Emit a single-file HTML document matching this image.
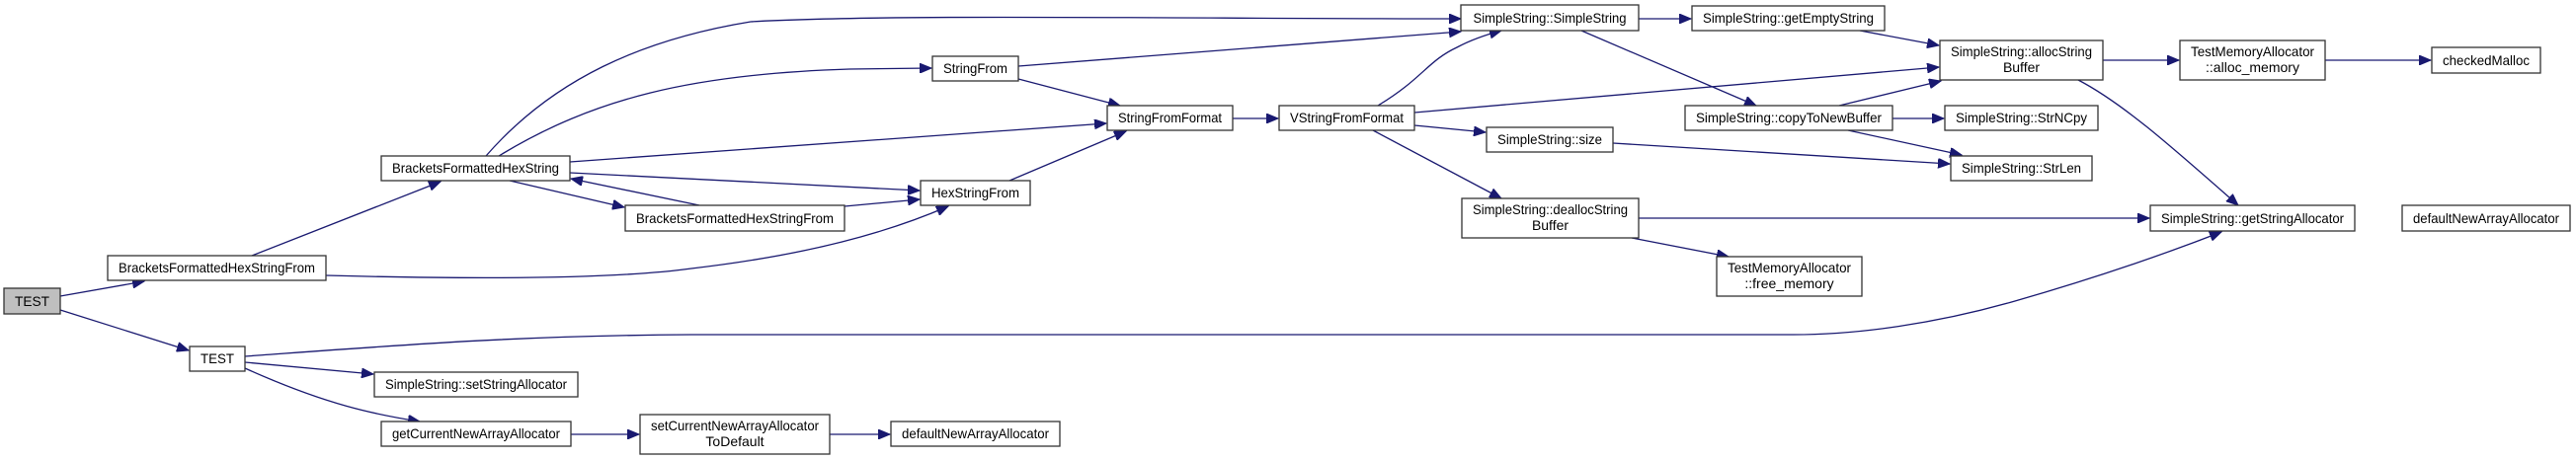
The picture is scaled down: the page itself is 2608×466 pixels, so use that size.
<!DOCTYPE html>
<html><head><meta charset="utf-8"><style>
html,body{margin:0;padding:0;background:#fff;}
svg{display:block;}
text{font-family:"Liberation Sans",Arial,sans-serif;font-size:14px;fill:#000;}
.n{fill:#fff;stroke:#333;stroke-width:1.3;}
.e{fill:none;stroke:#191970;stroke-width:1.3;}
</style></head><body>
<svg width="2608" height="466" viewBox="0 0 2608 466" xmlns="http://www.w3.org/2000/svg">
<defs>
<marker id="a" markerUnits="userSpaceOnUse" markerWidth="14" markerHeight="10" refX="12" refY="5" orient="auto">
<path d="M0,0 L12,5 L0,10 Z" fill="#191970" stroke="#191970"/>
</marker>
</defs>
<g marker-end="url(#a)" class="e">
<path d="M61,300 L146,285"/>
<path d="M61,314 L191,355"/>
<path d="M255,259 L446,184"/>
<path d="M330,279 C480,283 620,283 700,272 C820,258 900,235 960,209"/>
<path d="M492,158 C560,80 650,40 760,22 C900,14 1200,19 1479,19"/>
<path d="M505,158 C600,100 700,75 860,70 L943,69"/>
<path d="M577,164 L1120,125"/>
<path d="M577,175 L931,193"/>
<path d="M516,183 L632,210"/>
<path d="M708,208 L578,181"/>
<path d="M855,209 L931,202"/>
<path d="M1031,67 L1479,32"/>
<path d="M1031,80 L1134,107"/>
<path d="M1022,183 L1140,133"/>
<path d="M1248,120 L1294,120"/>
<path d="M1395,107 C1440,80 1445,62 1475,48 C1490,40 1505,35 1520,31"/>
<path d="M1432,114 L1963,68"/>
<path d="M1432,127 L1504,134"/>
<path d="M1390,132 L1520,201"/>
<path d="M1659,19 L1712,19"/>
<path d="M1601,31 L1778,107"/>
<path d="M1883,31 L1963,46"/>
<path d="M1862,107 L1965,82"/>
<path d="M1916,120 L1968,120"/>
<path d="M1871,132 L1986,157"/>
<path d="M1633,145 L1974,166"/>
<path d="M1659,221 L2176,221"/>
<path d="M1652,241 L1750,260"/>
<path d="M2129,61 L2206,61"/>
<path d="M2354,61 L2461,61"/>
<path d="M2104,81 C2150,105 2200,150 2266,208"/>
<path d="M248,361 C400,350 520,340 700,339 L1816,339 C1880,339 1960,328 2040,305 C2120,282 2190,258 2249,235"/>
<path d="M248,367 L378,379"/>
<path d="M248,373 C330,410 380,420 425,427"/>
<path d="M578,440 L647,440"/>
<path d="M840,440 L901,440"/>
</g>
<g>
<rect x="4" y="292" width="57" height="26" style="fill:#bfbfbf;stroke:#333;stroke-width:1.3"/>
<text x="32.5" y="310" text-anchor="middle" textLength="35" lengthAdjust="spacingAndGlyphs">TEST</text>

<rect class="n" x="109" y="259" width="221" height="25"/>
<text x="219.5" y="276" text-anchor="middle" textLength="199" lengthAdjust="spacingAndGlyphs">BracketsFormattedHexStringFrom</text>

<rect class="n" x="386" y="158" width="191" height="25"/>
<text x="481.5" y="175" text-anchor="middle" textLength="169" lengthAdjust="spacingAndGlyphs">BracketsFormattedHexString</text>

<rect class="n" x="192" y="351" width="56" height="25"/>
<text x="220" y="368" text-anchor="middle" textLength="34" lengthAdjust="spacingAndGlyphs">TEST</text>

<rect class="n" x="379" y="377" width="206" height="25"/>
<text x="482" y="394" text-anchor="middle" textLength="184" lengthAdjust="spacingAndGlyphs">SimpleString::setStringAllocator</text>

<rect class="n" x="386" y="427" width="192" height="25"/>
<text x="482" y="444" text-anchor="middle" textLength="170" lengthAdjust="spacingAndGlyphs">getCurrentNewArrayAllocator</text>

<rect class="n" x="944" y="57" width="87" height="25"/>
<text x="987.5" y="74" text-anchor="middle" textLength="65" lengthAdjust="spacingAndGlyphs">StringFrom</text>

<rect class="n" x="1121" y="107" width="127" height="25"/>
<text x="1184.5" y="124" text-anchor="middle" textLength="105" lengthAdjust="spacingAndGlyphs">StringFromFormat</text>

<rect class="n" x="932" y="183" width="111" height="25"/>
<text x="987.5" y="200" text-anchor="middle" textLength="89" lengthAdjust="spacingAndGlyphs">HexStringFrom</text>

<rect class="n" x="633" y="208" width="222" height="26"/>
<text x="744" y="226" text-anchor="middle" textLength="200" lengthAdjust="spacingAndGlyphs">BracketsFormattedHexStringFrom</text>

<rect class="n" x="648" y="420" width="192" height="40"/>
<text x="744" y="436" text-anchor="middle" textLength="170" lengthAdjust="spacingAndGlyphs">setCurrentNewArrayAllocator</text>
<text x="744" y="452" text-anchor="middle">ToDefault</text>

<rect class="n" x="902" y="427" width="171" height="25"/>
<text x="987.5" y="444" text-anchor="middle" textLength="149" lengthAdjust="spacingAndGlyphs">defaultNewArrayAllocator</text>

<rect class="n" x="1479" y="5" width="180" height="26"/>
<text x="1569" y="23" text-anchor="middle" textLength="155" lengthAdjust="spacingAndGlyphs">SimpleString::SimpleString</text>

<rect class="n" x="1713" y="6" width="195" height="25"/>
<text x="1810.5" y="23" text-anchor="middle" textLength="173" lengthAdjust="spacingAndGlyphs">SimpleString::getEmptyString</text>

<rect class="n" x="1295" y="107" width="137" height="25"/>
<text x="1363.5" y="124" text-anchor="middle" textLength="115" lengthAdjust="spacingAndGlyphs">VStringFromFormat</text>

<rect class="n" x="1706" y="107" width="210" height="25"/>
<text x="1811" y="124" text-anchor="middle" textLength="188" lengthAdjust="spacingAndGlyphs">SimpleString::copyToNewBuffer</text>

<rect class="n" x="1505" y="129" width="128" height="25"/>
<text x="1569" y="146" text-anchor="middle" textLength="106" lengthAdjust="spacingAndGlyphs">SimpleString::size</text>

<rect class="n" x="1480" y="201" width="179" height="40"/>
<text x="1569.5" y="217" text-anchor="middle" textLength="157" lengthAdjust="spacingAndGlyphs">SimpleString::deallocString</text>
<text x="1569.5" y="233" text-anchor="middle">Buffer</text>

<rect class="n" x="1738" y="260" width="147" height="40"/>
<text x="1811.5" y="276" text-anchor="middle" textLength="125" lengthAdjust="spacingAndGlyphs">TestMemoryAllocator</text>
<text x="1811.5" y="292" text-anchor="middle">::free_memory</text>

<rect class="n" x="1964" y="41" width="165" height="40"/>
<text x="2046.5" y="57" text-anchor="middle" textLength="143" lengthAdjust="spacingAndGlyphs">SimpleString::allocString</text>
<text x="2046.5" y="73" text-anchor="middle">Buffer</text>

<rect class="n" x="2207" y="41" width="147" height="40"/>
<text x="2280.5" y="57" text-anchor="middle" textLength="125" lengthAdjust="spacingAndGlyphs">TestMemoryAllocator</text>
<text x="2280.5" y="73" text-anchor="middle">::alloc_memory</text>

<rect class="n" x="2462" y="48" width="110" height="26"/>
<text x="2517" y="66" text-anchor="middle" textLength="88" lengthAdjust="spacingAndGlyphs">checkedMalloc</text>

<rect class="n" x="1969" y="107" width="155" height="25"/>
<text x="2046.5" y="124" text-anchor="middle" textLength="133" lengthAdjust="spacingAndGlyphs">SimpleString::StrNCpy</text>

<rect class="n" x="1975" y="158" width="143" height="25"/>
<text x="2046.5" y="175" text-anchor="middle" textLength="121" lengthAdjust="spacingAndGlyphs">SimpleString::StrLen</text>

<rect class="n" x="2177" y="208" width="207" height="26"/>
<text x="2280.5" y="226" text-anchor="middle" textLength="185" lengthAdjust="spacingAndGlyphs">SimpleString::getStringAllocator</text>

<rect class="n" x="2432" y="208" width="170" height="26"/>
<text x="2517" y="226" text-anchor="middle" textLength="148" lengthAdjust="spacingAndGlyphs">defaultNewArrayAllocator</text>
</g>
</svg>
</body></html>
